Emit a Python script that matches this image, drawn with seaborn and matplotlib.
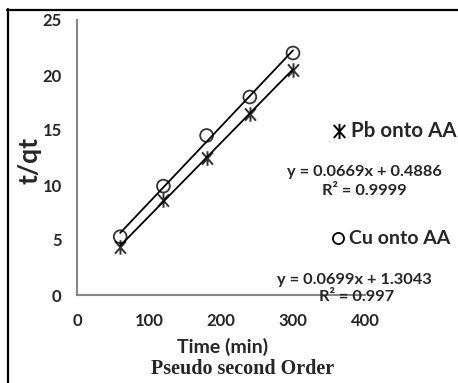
import numpy as np
import pandas as pd
import matplotlib
matplotlib.use("Agg")
import matplotlib.pyplot as plt
from matplotlib.lines import Line2D
from matplotlib.path import Path
import seaborn as sns

time_min = [60, 120, 180, 240, 300]
pb_tqt = [4.4, 8.6, 12.5, 16.5, 20.5]
cu_tqt = [5.3, 9.9, 14.5, 18.0, 22.0]
pb_label = "Pb onto AA"
cu_label = "Cu onto AA"
pb_eq = "y = 0.0669x + 0.4886"
pb_r2 = "R² = 0.9999"
cu_eq = "y = 0.0699x + 1.3043"
cu_r2 = "R² = 0.997"
x_ticks = [0, 100, 200, 300, 400]
y_ticks = [0, 5, 10, 15, 20, 25]

sns.set_style("white")
plt.rcParams['font.family'] = ['Lato', 'DejaVu Sans']

W, H = 458, 383
fig = plt.figure(figsize=(W / 100, H / 100), dpi=100)
ax = fig.add_axes([77 / W, 1 - 295 / H, (365 - 77) / W, (295 - 20) / H])

df = pd.DataFrame({"time": time_min * 2,
                   "tqt": pb_tqt + cu_tqt,
                   "metal": [pb_label] * 5 + [cu_label] * 5})

# asterisk-like marker: vertical bar plus an X
star = Path([(0, -1), (0, 1), (-0.75, -0.85), (0.75, 0.85), (-0.75, 0.85), (0.75, -0.85)],
            [Path.MOVETO, Path.LINETO, Path.MOVETO, Path.LINETO, Path.MOVETO, Path.LINETO])

sns.regplot(data=df[df.metal == pb_label], x="time", y="tqt", ax=ax, ci=None,
            marker=star, color="black",
            scatter_kws=dict(s=110, linewidths=1.4, zorder=3),
            line_kws=dict(lw=1.3, color="black"))
sns.regplot(data=df[df.metal == cu_label], x="time", y="tqt", ax=ax, ci=None,
            marker="o", color="black",
            scatter_kws=dict(s=85, facecolors="none", edgecolors="black", linewidths=1.3, zorder=3),
            line_kws=dict(lw=1.3, color="black"))

ax.set_xlim(0, 400)
ax.set_ylim(0, 25)
ax.set_xticks(x_ticks)
ax.set_yticks(y_ticks)
for s in ["top", "right"]:
    ax.spines[s].set_visible(False)
for s in ["left", "bottom"]:
    ax.spines[s].set_color("#868686")
    ax.spines[s].set_linewidth(1.5)
ax.tick_params(axis="both", direction="out", length=5, width=1.2, color="#868686",
               labelsize=12, pad=6)
for lab in ax.get_xticklabels() + ax.get_yticklabels():
    lab.set_fontweight("bold")
ax.tick_params(axis="x", pad=8)
ax.set_xlabel("")
ax.set_ylabel("")

def fx(px):
    return px / W

def fy(py):
    return 1 - py / H

fig.text(fx(30), fy(160), "t/qt", rotation=90, ha="center", va="center",
         fontsize=19, fontweight="bold")
fig.text(fx(223), fy(347), "Time (min)", ha="center", va="center",
         fontsize=14, fontweight="bold")
fig.text(fx(243), fy(369), "Pseudo second Order", ha="center", va="center",
         fontsize=14.5, fontweight="bold", family="Liberation Serif")

fig.text(fx(351), fy(131), pb_label, ha="left", va="center", fontsize=14.8, fontweight="bold")
fig.add_artist(Line2D([fx(339)], [fy(131)], marker=star, markersize=11, color="black",
                      mew=1.4, transform=fig.transFigure))
fig.text(fx(364), fy(172), pb_eq, ha="center", va="center", fontsize=11.8, fontweight="bold")
fig.text(fx(364), fy(191), pb_r2, ha="center", va="center", fontsize=11.8, fontweight="bold")

fig.text(fx(349), fy(238), cu_label, ha="left", va="center", fontsize=14, fontweight="bold")
fig.add_artist(Line2D([fx(338)], [fy(238)], marker="o", markersize=8, color="black",
                      mfc="none", mew=1.3, transform=fig.transFigure))
fig.text(fx(354), fy(280), cu_eq, ha="center", va="center", fontsize=11.8, fontweight="bold")
fig.text(fx(357), fy(297), cu_r2, ha="center", va="center", fontsize=11.8, fontweight="bold")

fig.add_artist(Line2D([fx(7), fx(458)], [fy(9.5), fy(9.5)], color="black", lw=1.6,
                      transform=fig.transFigure))
fig.add_artist(Line2D([fx(7.5), fx(7.5)], [fy(9), fy(383)], color="black", lw=1.6,
                      transform=fig.transFigure))

fig.savefig("out.png", dpi=100)
